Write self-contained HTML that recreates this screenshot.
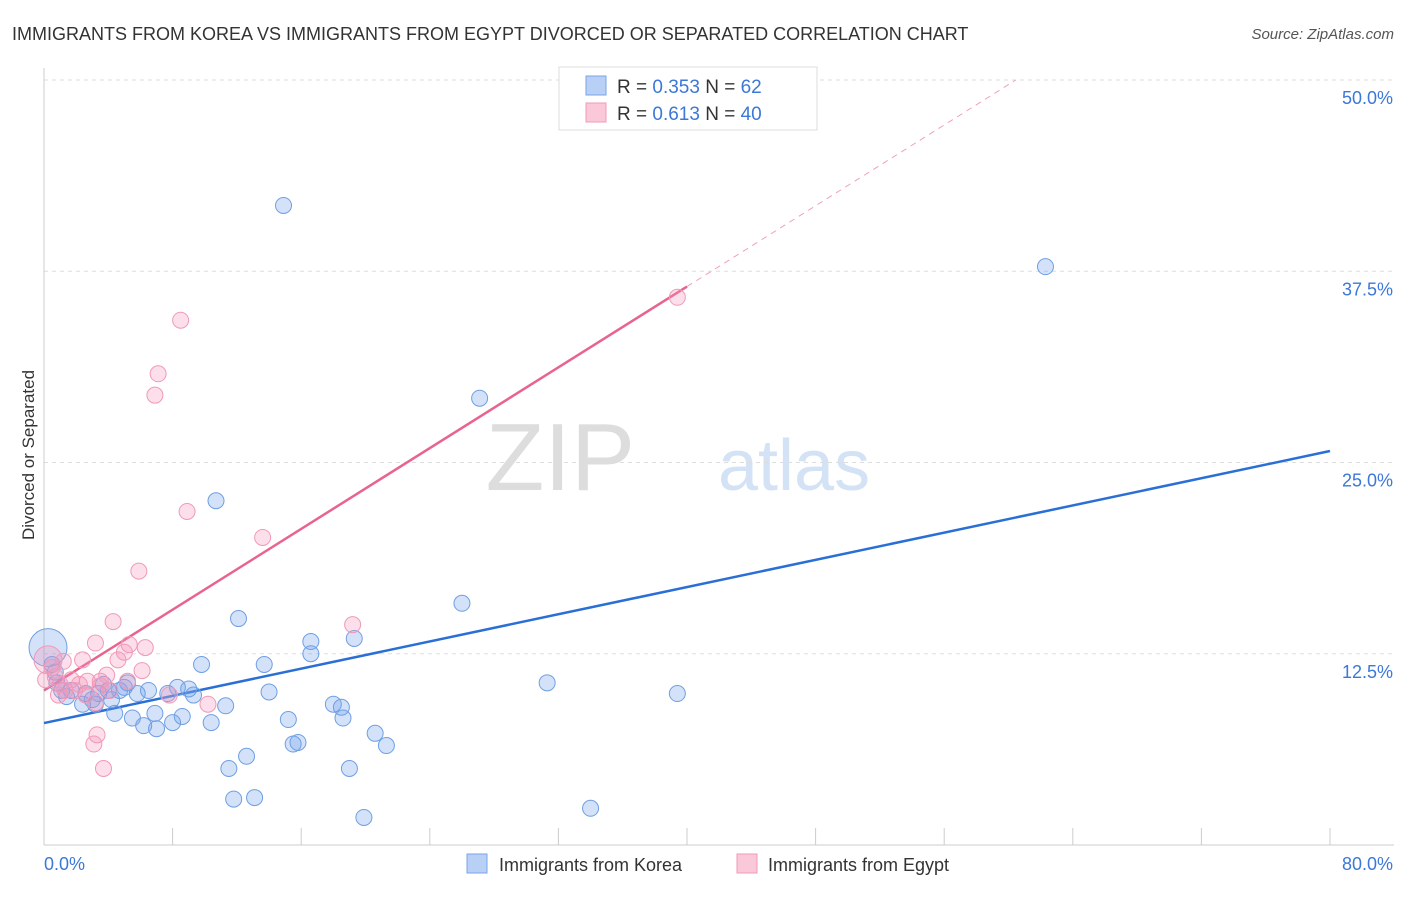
<!DOCTYPE html>
<html><head><meta charset="utf-8"><style>
body{margin:0;background:#fff;font-family:"Liberation Sans",sans-serif;}
svg text{font-family:"Liberation Sans",sans-serif;}
</style></head><body>
<svg id="chart" width="1406" height="892" xmlns="http://www.w3.org/2000/svg">
<text x="12" y="40" font-size="18" fill="#333">IMMIGRANTS FROM KOREA VS IMMIGRANTS FROM EGYPT DIVORCED OR SEPARATED CORRELATION CHART</text>
<text x="1394" y="39" font-size="15" fill="#555" text-anchor="end" font-style="italic">Source: ZipAtlas.com</text>
<text x="635" y="490" font-size="96" fill="#ddd" text-anchor="end" font-family="Liberation Serif">ZIP</text>
<text x="718" y="490" font-size="72" fill="#d4e2f5">atlas</text>
<text transform="translate(34,455) rotate(-90)" font-size="17" fill="#333" text-anchor="middle">Divorced or Separated</text>
<g id="grid"></g><g id="axes"></g><g id="lines"></g><g id="pts"></g>
<g>
<rect x="559" y="67" width="258" height="63" fill="#fff" stroke="#ddd"/>
<rect x="586" y="76" width="20" height="19" fill="#b8d0f5" stroke="#7aa5e6"/>
<rect x="586" y="103" width="20" height="19" fill="#fac8d8" stroke="#f09ab8"/>
<text x="617" y="93" font-size="19" fill="#333">R = <tspan fill="#3b78d8">0.353</tspan>   N =  <tspan fill="#3b78d8">62</tspan></text>
<text x="617" y="120" font-size="19" fill="#333">R =  <tspan fill="#3b78d8">0.613</tspan>   N = <tspan fill="#3b78d8">40</tspan></text>
</g>
<g>
<rect x="467" y="854" width="20" height="19" fill="#b8d0f5" stroke="#7aa5e6"/>
<text x="499" y="871" font-size="18" fill="#333">Immigrants from Korea</text>
<rect x="737" y="854" width="20" height="19" fill="#fac8d8" stroke="#f09ab8"/>
<text x="768" y="871" font-size="18" fill="#333">Immigrants from Egypt</text>
</g>
</svg>
<script>
const yTicks=[12.5,25,37.5,50];
const yTickLabels=["12.5%","25.0%","37.5%","50.0%"];
const xTicks=[0,8,16,24,32,40,48,56,64,72,80];
const koreaX=[14.9,62.3,27.1,10.7,26.0,12.1,16.6,19.3,16.6,9.8,13.7,31.3,39.4,14.0,18.0,18.5,18.6,11.3,15.2,10.4,20.6,21.3,15.8,15.5,12.6,11.5,19.0,11.8,13.1,19.9,34.0,8.6,8.0,7.0,6.2,4.4,5.5,6.9,3.7,5.0,6.5,8.3,9.0,9.3,7.7,5.8,4.7,3.4,2.6,1.7,1.1,0.8,0.7,0.5,1.4,2.4,3.2,3.0,4.0,5.2,4.2,0.25];
const koreaY=[41.8,37.8,29.2,22.5,15.8,14.8,13.3,13.5,12.5,11.8,11.8,10.6,9.9,10.0,9.2,9.0,8.3,9.1,8.2,8.0,7.3,6.5,6.7,6.6,5.8,5.0,5.0,3.0,3.1,1.8,2.4,8.4,8.0,7.6,7.8,8.6,8.3,8.6,10.5,10.3,10.1,10.3,10.2,9.8,9.9,9.9,10.1,9.9,9.9,10.1,10.1,10.6,11.3,11.8,9.7,9.2,9.2,9.5,10.1,10.6,9.5,12.9];
const egyptX=[39.4,8.5,7.1,6.9,8.9,13.6,5.9,19.2,4.3,3.2,5.3,6.3,5.0,4.6,6.1,2.4,1.2,0.5,0.7,1.0,1.7,2.2,2.7,3.5,3.9,5.2,3.5,3.2,0.9,1.3,7.8,10.2,3.3,3.1,3.7,0.1,1.9,4.1,2.6,0.25];
const egyptY=[35.8,34.3,30.8,29.4,21.8,20.1,17.9,14.4,14.6,13.2,13.1,12.9,12.6,12.1,11.4,12.1,12.0,11.6,11.0,10.5,10.8,10.5,10.7,10.7,11.1,10.7,10.4,9.3,9.8,10.1,9.8,9.2,7.2,6.6,5.0,10.8,10.1,10.1,9.8,12.1];
const koreaTrend=[7.97,25.75];
const egyptTrend=[10.1,0.66];
const X=v=>44+v*16.075, Y=v=>845-v*15.3;
const NS="http://www.w3.org/2000/svg";
function mk(p,t,a){const e=document.createElementNS(NS,t);for(const k in a)e.setAttribute(k,a[k]);document.getElementById(p).appendChild(e);return e;}
yTicks.forEach((t,i)=>{
 const l=mk('grid','line',{x1:44,x2:1394,y1:Y(t),y2:Y(t),stroke:'#ddd','stroke-dasharray':'4,4'});
 
 
 const tx=mk('grid','text',{x:1393,y:Y(t)+24,'font-size':18,fill:'#3b78d8','text-anchor':'end'});
 tx.textContent=yTickLabels[i];
 
 
});
const ax=mk('axes','line',{x1:44,x2:1394,y1:845,y2:845,stroke:'#ccc'});


const ay=mk('axes','line',{x1:44,x2:44,y1:68,y2:845,stroke:'#ccc'});


xTicks.forEach(t=>{const l=mk('axes','line',{x1:X(t),x2:X(t),y1:828,y2:845,stroke:'#ccc'});
 
 });
[["0.0%",44,"start"],["80.0%",1393,"end"]].forEach(d=>{const t=mk('axes','text',{x:d[1],y:870,'font-size':18,fill:'#3b78d8','text-anchor':d[2]});t.textContent=d[0];
 
 });
function pts(xs,ys,fill,stroke,name){xs.forEach((x,i)=>{const big=i===xs.length-1;
 const c=mk('pts','circle',{cx:X(x),cy:Y(ys[i]),r:big?(name==='korea-point'?19:14):8,fill:fill,stroke:stroke,'stroke-width':1});
 
 });}
pts(koreaX,koreaY,'rgba(110,160,235,0.3)','#6f9fe3','korea-point');
pts(egyptX,egyptY,'rgba(245,150,185,0.3)','#f09ab8','egypt-point');
const kl=mk('lines','line',{x1:X(0),y1:Y(koreaTrend[0]),x2:X(80),y2:Y(koreaTrend[1]),stroke:'#2a6fd6','stroke-width':2.5});


const el=mk('lines','line',{x1:X(0),y1:Y(egyptTrend[0]),x2:X(40),y2:Y(egyptTrend[0]+40*egyptTrend[1]),stroke:'#e8648f','stroke-width':2.5});


const xe=(50-egyptTrend[0])/egyptTrend[1];
const ed=mk('lines','line',{x1:X(40),y1:Y(egyptTrend[0]+40*egyptTrend[1]),x2:X(xe),y2:Y(50),stroke:'#f0a0b8','stroke-width':1,'stroke-dasharray':'6,5'});


</script>
</body></html>
